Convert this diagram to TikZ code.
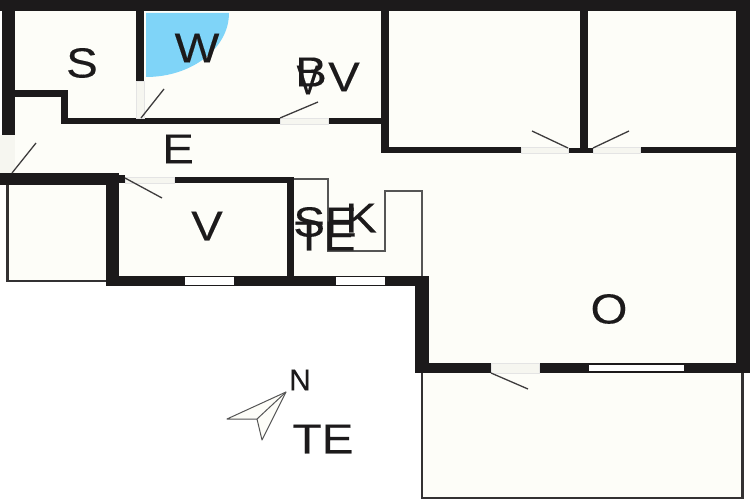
\documentclass[tikz,border=0pt]{standalone}
\usepackage{fontspec}
\setmainfont{Liberation Sans}
\newfontfamily\lblfont[FakeBold=0.25]{Liberation Sans}
\definecolor{wallc}{HTML}{1C1A1B}
\definecolor{floorc}{HTML}{FDFDF8}
\definecolor{doorc}{HTML}{F6F6F0}
\definecolor{bluec}{HTML}{7FD4F8}
\definecolor{thinc}{HTML}{555555}
\tikzset{
  wall/.style={fill=wallc,draw=none},
  lbl/.style={font=\lblfont\fontsize{42}{42}\selectfont,text=wallc,inner sep=0pt,xscale=1.13,transform shape},
  swing/.style={draw=wallc!85,line width=1.3pt},
  thin/.style={draw=thinc,line width=1.2pt},
  outline/.style={draw=wallc!90,line width=2.6pt,fill=floorc}
}
\begin{document}
\begin{tikzpicture}[x=1pt,y=-1pt]
\useasboundingbox (0,0) rectangle (750,500);
\fill[white] (0,0) rectangle (750,500);
% floors
\fill[floorc] (3,5) -- (745,5) -- (745,368) -- (422,368) -- (422,280) -- (112,280) -- (112,178) -- (3,178) -- cycle;
\draw[outline] (7.5,183) rectangle (108,281);
\draw[outline] (422,370) -- (422,498) -- (742.5,498) -- (742.5,370);
% blue quarter
\fill[bluec] (146,13) -- (229,13) .. controls (229,48.3) and (191.8,77) .. (146,77) -- cycle;
% kitchen
\draw[thin] (294,179) -- (328,179) -- (328,251) -- (385,251) -- (385,191) -- (422,191) -- (422,276);
% walls
\fill[wall] (0,0) rectangle (750,11);
\fill[wall] (2,0) rectangle (15,135);
\fill[wall] (736,0) rectangle (750,373);
\fill[wall] (136,11) rectangle (144,81);
\fill[wall] (15,90) rectangle (68,97);
\fill[wall] (61,90) rectangle (68,124);
\fill[wall] (61,118) rectangle (280,124);
\fill[wall] (328,118) rectangle (389,124);
\fill[wall] (381,11) rectangle (389,153);
\fill[wall] (381,147) rectangle (521,153);
\fill[wall] (568,148) rectangle (593,153);
\fill[wall] (580,11) rectangle (588,150);
\fill[wall] (640,147) rectangle (736,153);
\fill[wall] (0,173) rectangle (119,185);
\fill[wall] (106,173) rectangle (119,286);
\fill[wall] (119,175) rectangle (125,183);
\fill[wall] (174,177) rectangle (294,183);
\fill[wall] (287,177) rectangle (294,276);
\fill[wall] (106,276) rectangle (429,286);
\fill[wall] (415,276) rectangle (429,373);
\fill[wall] (415,363) rectangle (491,373);
\fill[wall] (539,363) rectangle (750,373);
% openings
\fill[doorc] (0,135) rectangle (15,173);
\fill[doorc,draw=wallc!12] (136,81) rectangle (144,118);
\fill[doorc,draw=wallc!12] (280,118) rectangle (328,124);
\fill[doorc,draw=wallc!12] (125,177) rectangle (174,183);
\fill[doorc,draw=wallc!12] (521,147) rectangle (568,153);
\fill[doorc,draw=wallc!12] (593,147) rectangle (640,153);
\fill[doorc,draw=wallc!12] (491,363) rectangle (539,373);
\fill[white] (185,277) rectangle (234,285);
\fill[white] (336,277) rectangle (385,285);
\fill[white] (589,365) rectangle (684,371);
% door swings
\draw[swing] (141,118) -- (164,89);
\draw[swing] (280,118) -- (318,102);
\draw[swing] (12,173) -- (36,143);
\draw[swing] (125,178) -- (162,198);
\draw[swing] (568,148) -- (532,131);
\draw[swing] (593,148) -- (629,131);
\draw[swing] (491,373) -- (528,389);
% compass
\draw[draw=thinc,line width=1pt,fill=floorc,line join=round] (286,392) -- (227,419) -- (257,419) -- (262,440) -- cycle;
\draw[draw=thinc,line width=1pt] (257,419) -- (286,392);
% labels
\node[lbl] (s) at (82,63) {S};
\node[lbl] (w) at (197,48) {W};
\node[lbl] (b) at (311,72) {B};
\node[lbl,xscale=0.72] (bv) at (308,80) {V};
\node[lbl] (vb) at (344,77) {V};
\node[lbl] (e) at (178,149) {E};
\node[lbl] (v) at (207,226) {V};
\node[lbl] (se) at (325,222) {SE};
\node[lbl] (k) at (361,218) {K};
\node[lbl] (te1) at (325,236) {TE};
\node[lbl] (o) at (609,309) {O};
\node[lbl] (te2) at (323,439) {TE};
\node[font=\lblfont\fontsize{30}{30}\selectfont,text=wallc,inner sep=0pt] (n) at (300,380) {N};
\end{tikzpicture}
\end{document}
